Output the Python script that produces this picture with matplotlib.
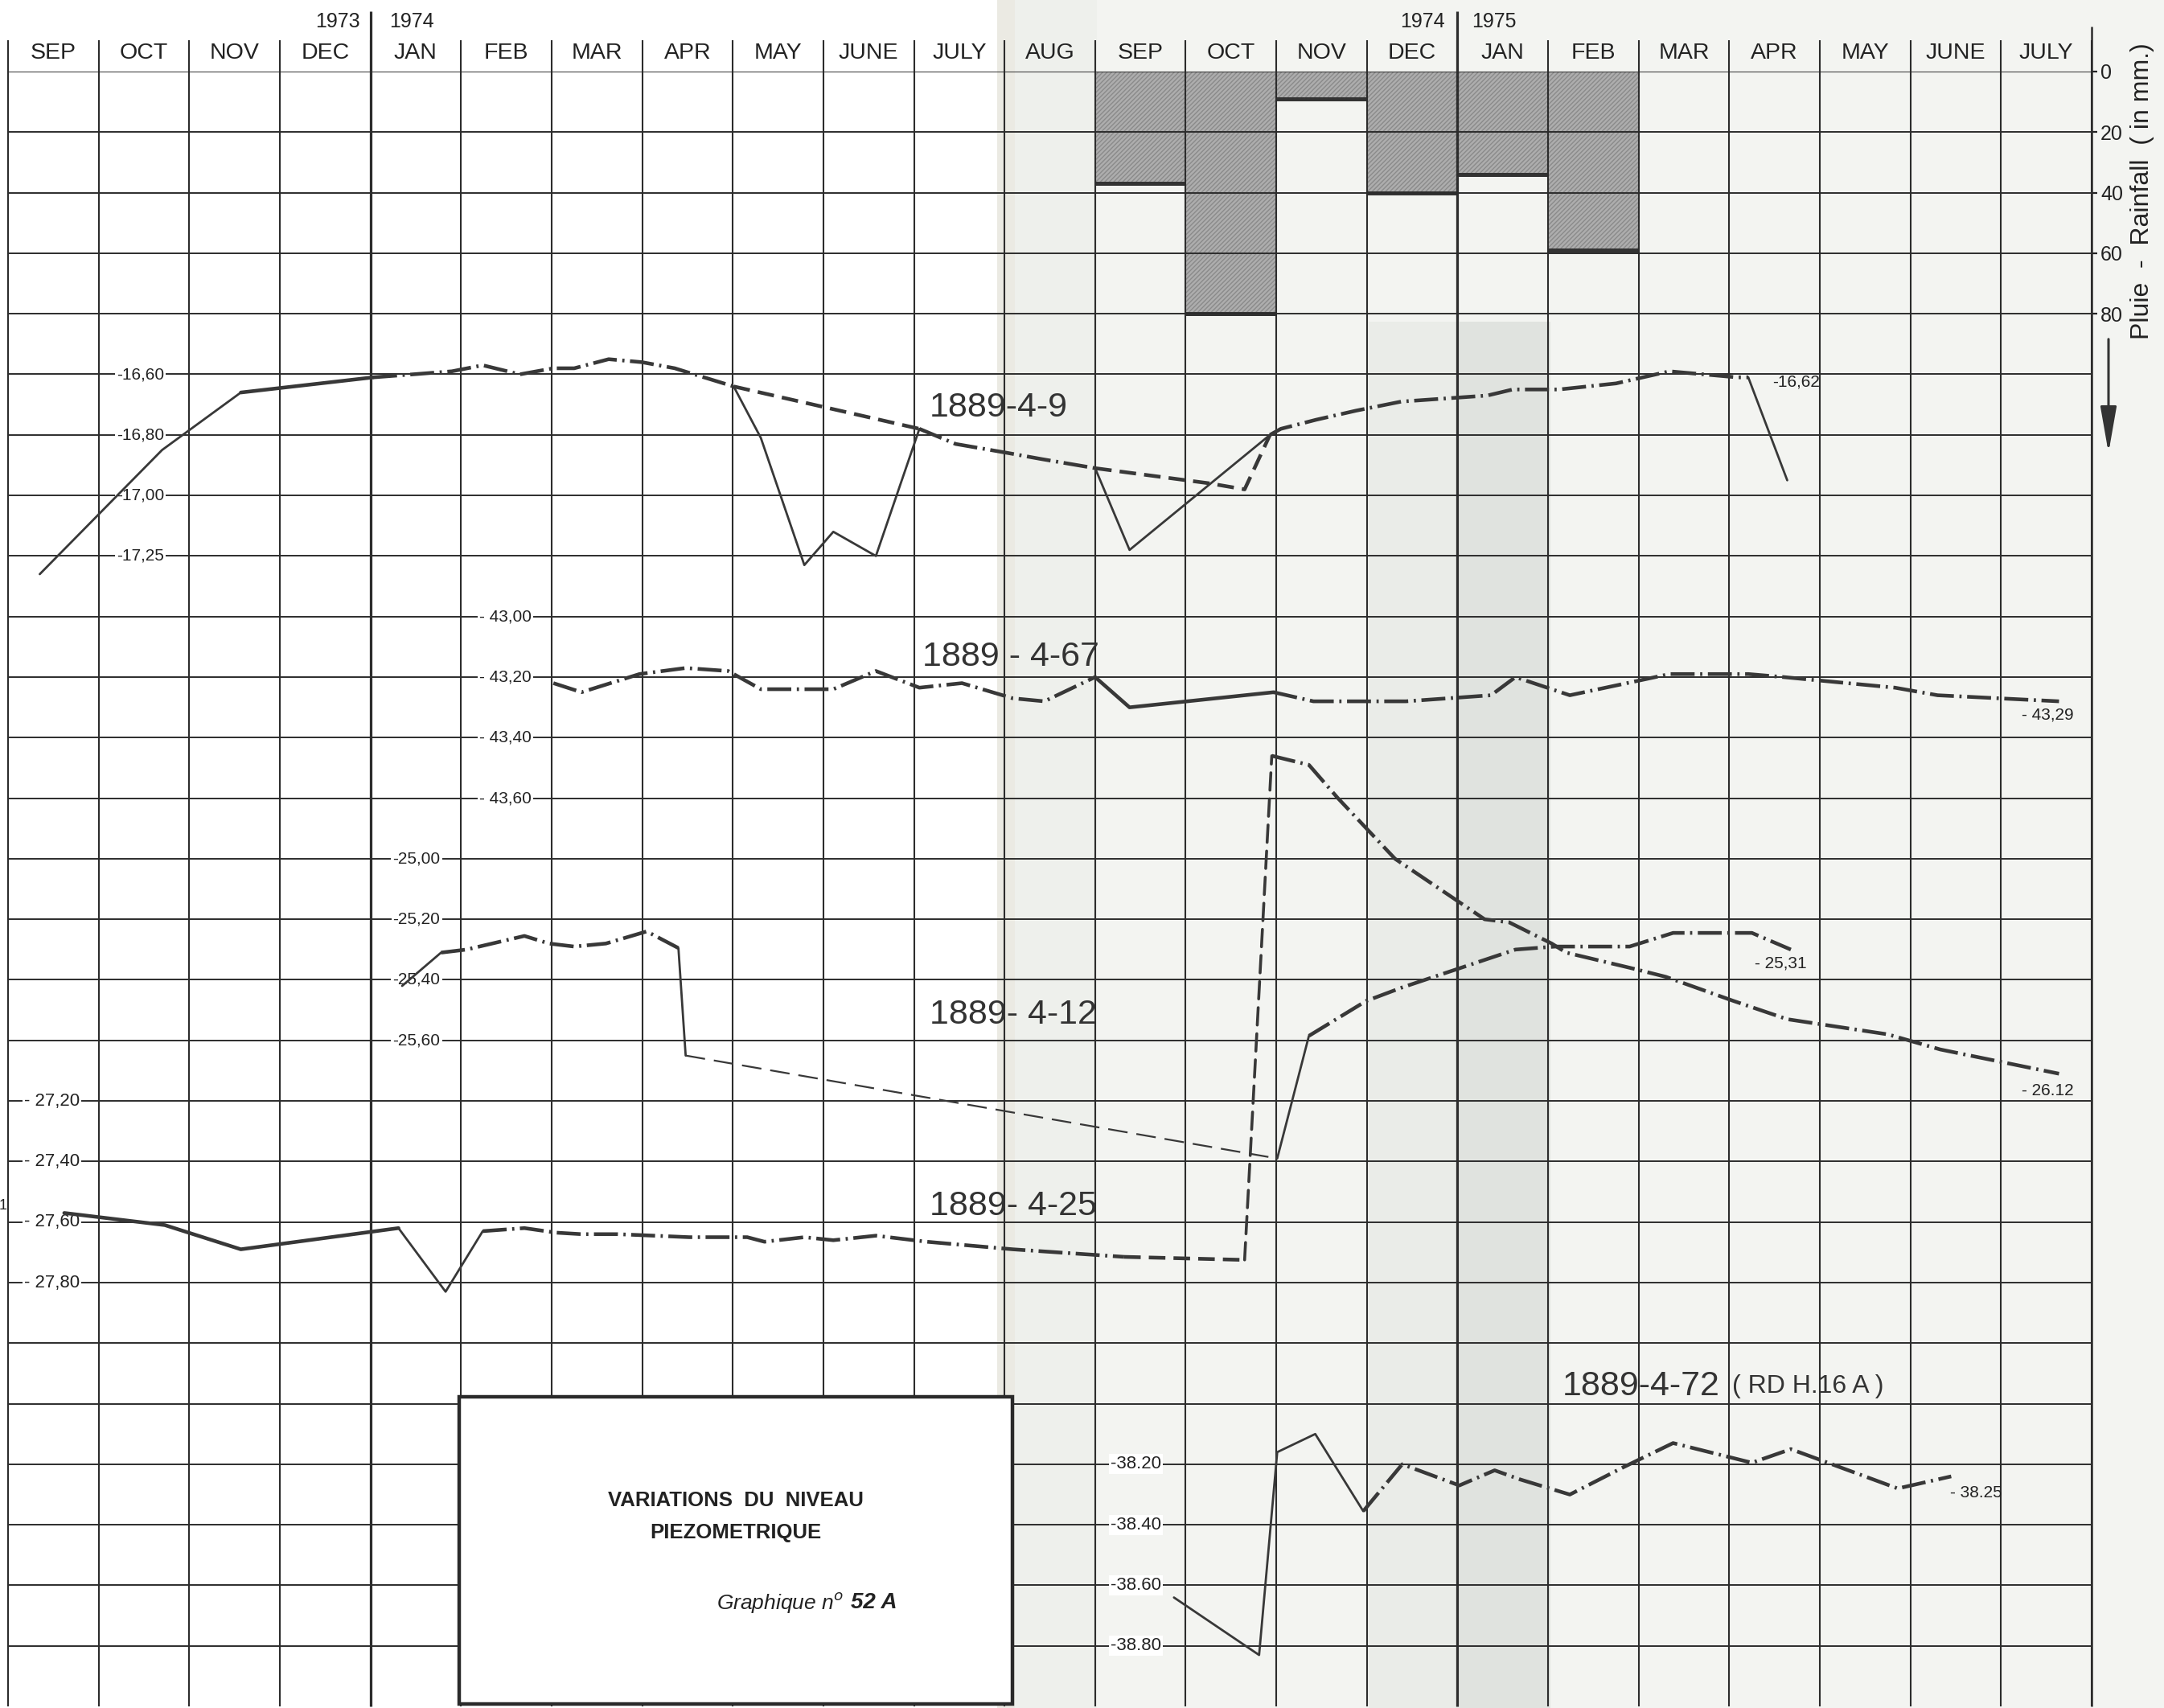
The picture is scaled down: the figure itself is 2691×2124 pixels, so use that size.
import matplotlib.pyplot as plt
from matplotlib.patches import Rectangle, ConnectionPatch

plt.rcParams['font.family'] = ['Liberation Sans', 'DejaVu Sans']

# ---- data -------------------------------------------------------------
months = ['SEP', 'OCT', 'NOV', 'DEC', 'JAN', 'FEB', 'MAR', 'APR', 'MAY', 'JUNE', 'JULY', 'AUG',
          'SEP', 'OCT', 'NOV', 'DEC', 'JAN', 'FEB', 'MAR', 'APR', 'MAY', 'JUNE', 'JULY']
years = [('1973', 3.89, 'right'), ('1974', 4.21, 'left'), ('1974', 15.86, 'right'), ('1975', 16.16, 'left')]

# rainfall (mm) for SEP 1974 .. FEB 1975 (month index from SEP 1973)
rain_month = [12, 13, 14, 15, 16, 17]
rain_mm = [37, 80, 9, 40, 34, 59]
rain_ticks = [0, 20, 40, 60, 80]

# piezometric levels (m), x in months since 1 Sep 1973
x9 = [0.35, 1.70, 2.57, 4.03, 4.47, 4.90, 5.24, 5.65, 6.02, 6.25, 6.63, 7.00, 7.36, 7.52, 8.01,
      8.31, 8.79, 9.11, 9.58, 10.06, 10.46, 11.04, 11.41, 12.00, 12.38, 13.93, 14.05, 14.44, 14.88,
      15.38, 16.33, 16.61, 17.12, 17.75, 18.34, 19.09, 19.21, 19.64]
v9 = [-17.26, -16.85, -16.66, -16.61, -16.60, -16.59, -16.57, -16.60, -16.58, -16.58, -16.55, -16.56,
      -16.58, -16.595, -16.64, -16.81, -17.23, -17.12, -17.20, -16.78, -16.83, -16.86, -16.88, -16.91,
      -17.18, -16.80, -16.78, -16.75, -16.72, -16.69, -16.67, -16.65, -16.65, -16.63, -16.59, -16.61,
      -16.61, -16.95]
x9_interp_a = [8.01, 10.06]
v9_interp_a = [-16.64, -16.78]
x9_interp_b = [12.00, 13.26, 13.65, 13.93]
v9_interp_b = [-16.91, -16.96, -16.98, -16.80]
ticks9 = [-16.6, -16.8, -17.0, -17.2]
labels9 = ['-16,60', '-16,80', '-17,00', '-17,25']

x67 = [6.02, 6.33, 6.97, 7.48, 7.95, 8.31, 9.11, 9.58, 10.06, 10.53, 11.09, 11.44, 12.00, 12.38,
       13.97, 14.41, 14.99, 15.43, 16.37, 16.64, 17.24, 17.87, 18.34, 19.21, 19.60, 20.83, 21.30, 22.64]
v67 = [-43.22, -43.25, -43.19, -43.17, -43.18, -43.24, -43.24, -43.18, -43.235, -43.22, -43.27,
       -43.28, -43.20, -43.30, -43.25, -43.28, -43.28, -43.28, -43.26, -43.20, -43.26, -43.22,
       -43.19, -43.19, -43.20, -43.235, -43.26, -43.28]
ticks67 = [-43.0, -43.2, -43.4, -43.6]
labels67 = ['- 43,00', '- 43,20', '- 43,40', '- 43,60']

x12 = [4.35, 4.78, 5.06, 5.70, 5.97, 6.25, 6.60, 7.05, 7.40, 7.48, 14.01, 14.36, 14.99, 15.39,
       16.64, 17.08, 17.90, 18.38, 19.25, 19.68]
v12 = [-25.42, -25.31, -25.30, -25.255, -25.28, -25.29, -25.28, -25.24, -25.295, -25.65, -25.99,
       -25.585, -25.47, -25.425, -25.30, -25.29, -25.29, -25.245, -25.245, -25.30]
ticks12 = [-25.0, -25.2, -25.4, -25.6]
labels12 = ['-25,00', '-25,20', '-25,40', '-25,60']

x25 = [0.62, 1.73, 2.57, 4.31, 4.83, 5.24, 5.70, 6.05, 6.33, 6.73, 7.13, 7.52, 8.16, 8.35, 8.79,
       9.11, 9.58, 10.14, 11.09, 12.32, 13.65]
v25 = [-27.57, -27.61, -27.69, -27.62, -27.83, -27.63, -27.62, -27.635, -27.64, -27.64, -27.645,
       -27.65, -27.65, -27.665, -27.65, -27.66, -27.645, -27.665, -27.69, -27.715, -27.725]
# after the Nov 1974 rise (drawn on a scale shifted by 1 m)
x25_after = [13.95, 14.36, 14.68, 15.31, 16.30, 16.57, 17.04, 17.20, 17.90, 18.30, 19.05, 19.64,
             20.75, 21.33, 22.64]
v25_after = [-25.06, -25.09, -25.20, -25.40, -25.60, -25.61, -25.68, -25.71, -25.76, -25.79,
             -25.87, -25.93, -25.98, -26.03, -26.11]
ticks25 = [-27.2, -27.4, -27.6, -27.8]
labels25 = ['- 27,20', '- 27,40', '- 27,60', '- 27,80']

x72 = [12.87, 13.81, 14.01, 14.43, 14.96, 15.39, 16.02, 16.41, 16.69, 17.24, 17.83, 18.38, 19.25,
       19.68, 20.86, 21.45]
v72 = [-38.64, -38.83, -38.16, -38.10, -38.355, -38.20, -38.27, -38.22, -38.25, -38.30, -38.21,
       -38.13, -38.195, -38.15, -38.28, -38.24]
ticks72 = [-38.2, -38.4, -38.6, -38.8]
labels72 = ['-38.20', '-38.40', '-38.60', '-38.80']

# segment styles: k dash-dot, S thick solid, s thin solid, d dashed, D thin long dashes
seg9 = 'ssS' + 'k' * 11 + 's' * 5 + 'k' * 4 + 'ss' + 'k' * 11 + 's'
seg67 = 'k' * 12 + 'SS' + 'k' * 13
seg12 = 's' + 'k' * 7 + 's' + 'D' + 's' + 'k' * 8
seg25 = 'SSSss' + 'k' * 14 + 'd'
seg25_after = 'k' * 14
seg72 = 'ssss' + 'k' * 11

# ---- layout -----------------------------------------------------------
W, H = 2691, 2124
X0, X1 = 10, 2601
Y0, ROW, NROWS = 89, 75.3, 27
NM = len(months)
INK = '#383838'
GRID = '#2c2c2c'
TXT = '#222222'
rect = [X0 / W, 1 - (Y0 + NROWS * ROW) / H, (X1 - X0) / W, NROWS * ROW / H]

STYLE = {
    'k': dict(lw=3.3, ls=(0, (6.5, 1.5, 0.6, 1.5))),
    'S': dict(lw=3.3, ls='-'),
    's': dict(lw=2.0, ls='-'),
    'd': dict(lw=3.3, ls=(0, (4.5, 2.2))),
    'D': dict(lw=1.6, ls=(0, (11, 5))),
}

fig = plt.figure(figsize=(W / 100, H / 100), dpi=100)
fig.patch.set_facecolor('white')

# scanned paper tint
for (xa, xb, ya, col) in [(1262, W, 0, '#f3f4f1'), (1240, 1262, 0, '#ebeae3'),
                          (1262, 1364, 0, '#eef0ec'),
                          (1702, 1815, 400, '#eaece8'), (1815, 1928, 400, '#e0e3df')]:
    fig.add_artist(Rectangle((xa / W, 0), (xb - xa) / W, 1 - ya / H, transform=fig.transFigure,
                             facecolor=col, edgecolor='none', zorder=-5))


def overlay(zorder):
    a = fig.add_axes(rect, zorder=zorder)
    a.patch.set_visible(False)
    for s in a.spines.values():
        s.set_visible(False)
    a.set_xlim(0, NM)
    a.set_xticks([])
    a.set_yticks([])
    return a


# rainfall bars
ax_rain = overlay(1)
ax_rain.set_ylim(NROWS * 20, 0)
ax_rain.bar(rain_month, rain_mm, width=1, align='edge', facecolor='#adadad',
            edgecolor='#8a8a8a', hatch='//////', linewidth=0)
ax_rain.hlines(rain_mm, rain_month, [m + 1 for m in rain_month], color='#333333', lw=3.6)
ax_rain.yaxis.tick_right()
ax_rain.set_yticks(rain_ticks)
ax_rain.set_yticklabels([str(t) for t in rain_ticks])
ax_rain.tick_params(axis='y', direction='out', length=5, width=1.6, pad=3, labelsize=18,
                    colors=TXT)

# grid, header, title box
ax = overlay(2)
ax.set_ylim(NROWS, 0)
ax.hlines(range(0, NROWS), 0, NM, color=GRID, lw=1.4)
ax.vlines(range(0, NM + 1), -0.52, NROWS, color=GRID, lw=1.5, clip_on=False)
ax.vlines([NM], -0.74, NROWS, color=GRID, lw=1.8, clip_on=False)
ax.vlines([4, 16], -1.0, NROWS, color=GRID, lw=2.3, clip_on=False)
for i, m in enumerate(months):
    ax.text(i + 0.5, -0.3, m, ha='center', va='center', fontsize=20.5, color=TXT)
for txt, xm, ha in years:
    ax.text(xm, -0.82, txt, ha=ha, va='center', fontsize=18, color=TXT)

ax.add_patch(Rectangle((4.98, 21.89), 6.11, 5.07, facecolor='white', edgecolor='#2a2a2a',
                       lw=3.2, zorder=5, clip_on=False))
ax.text(8.03, 23.6, 'VARIATIONS  DU  NIVEAU', ha='center', va='center', fontsize=18.5,
        fontweight='bold', color=TXT, zorder=6)
ax.text(8.03, 24.13, 'PIEZOMETRIQUE', ha='center', va='center', fontsize=18.5,
        fontweight='bold', color=TXT, zorder=6)
ax.text(9.22, 25.29, 'Graphique n$^{o}$', ha='right', va='center', fontsize=19,
        style='italic', color=TXT, zorder=6)
ax.text(9.30, 25.29, '52 A', ha='left', va='center', fontsize=20, style='italic',
        fontweight='bold', color=TXT, zorder=6)

for txt, xm, rw in [('1889-4-9', 10.17, 5.55), ('1889 - 4-67', 10.09, 9.67),
                    ('1889- 4-12', 10.17, 15.58), ('1889- 4-25', 10.17, 18.74),
                    ('1889-4-72', 17.16, 21.71)]:
    ax.text(xm, rw, txt, ha='left', va='center', fontsize=31, color='#333333')
ax.text(19.03, 21.71, '( RD H.16 A )', ha='left', va='center', fontsize=23, color='#333333')

fig.text(2664 / W, 1 - 238 / H, 'Pluie  -  Rainfall  ( in mm.)', rotation=90, ha='center',
         va='center', fontsize=23, color=TXT)
fig.text(4 / W, 1 - 1500 / H, '1', fontsize=13, ha='center', va='center', color=TXT)
ax_rain.annotate('', xy=(2622 / W, 1 - 566 / H), xytext=(2622 / W, 1 - 419 / H),
                 xycoords='figure fraction', textcoords='figure fraction',
                 arrowprops=dict(arrowstyle='-|>,head_width=0.28,head_length=1.6', lw=2.2,
                                 color='#333333', mutation_scale=22))


def draw_path(a, xs, vs, codes):
    start = 0
    for i in range(1, len(codes) + 1):
        if i == len(codes) or codes[i] != codes[start]:
            a.plot(xs[start:i + 1], vs[start:i + 1], color=INK, solid_capstyle='round',
                   dash_capstyle='butt', zorder=3, **STYLE[codes[start]])
            start = i


def well_axes(top_value):
    a = overlay(3)
    a.set_ylim(top_value - 0.2 * NROWS, top_value)
    return a


def scale_labels(a, xm, ticks, labels, size=15):
    for t, lab in zip(ticks, labels):
        a.text(xm, t, lab, ha='center', va='center', fontsize=size, color=TXT, zorder=1,
               bbox=dict(facecolor='white', edgecolor='none', pad=1.5))


ax9 = well_axes(-15.60)
scale_labels(ax9, 1.46, ticks9, labels9)
draw_path(ax9, x9, v9, seg9)
draw_path(ax9, x9_interp_a, v9_interp_a, 'd')
draw_path(ax9, x9_interp_b, v9_interp_b, 'ddd')
ax9.annotate('-16,62', xy=(x9[36], v9[36]), xytext=(22, -4), textcoords='offset points',
             ha='left', va='center', fontsize=15, color=TXT)

ax67 = well_axes(-41.20)
scale_labels(ax67, 5.49, ticks67, labels67)
draw_path(ax67, x67, v67, seg67)
ax67.annotate('- 43,29', xy=(x67[-1], v67[-1]), xytext=(-10, -12), textcoords='offset points',
              ha='center', va='center', fontsize=15, color=TXT)

ax12 = well_axes(-22.40)
scale_labels(ax12, 4.51, ticks12, labels12)
draw_path(ax12, x12, v12, seg12)
ax12.annotate('- 25,31', xy=(x12[-1], v12[-1]), xytext=(-9, -12), textcoords='offset points',
              ha='center', va='center', fontsize=15, color=TXT)

ax25 = well_axes(-23.80)
scale_labels(ax25, 0.48, ticks25, labels25, size=16)
draw_path(ax25, x25, v25, seg25)
ax25b = well_axes(-22.80)
draw_path(ax25b, x25_after, v25_after, seg25_after)
ax25b.add_artist(ConnectionPatch(xyA=(x25[-1], v25[-1]), coordsA=ax25.transData,
                                 xyB=(x25_after[0], v25_after[0]), coordsB=ax25b.transData,
                                 color=INK, lw=2.6, linestyle=(0, (6, 3)), zorder=3))
ax25b.annotate('- 26.12', xy=(x25_after[-1], v25_after[-1]), xytext=(-10, -15),
               textcoords='offset points', ha='center', va='center', fontsize=15, color=TXT)

ax72 = well_axes(-33.60)
scale_labels(ax72, 12.45, ticks72, labels72, size=16)
draw_path(ax72, x72, v72, seg72)
ax72.annotate('- 38.25', xy=(x72[-1], v72[-1]), xytext=(22, -15), textcoords='offset points',
              ha='center', va='center', fontsize=15, color=TXT)

fig.savefig('out.png', dpi=100)
